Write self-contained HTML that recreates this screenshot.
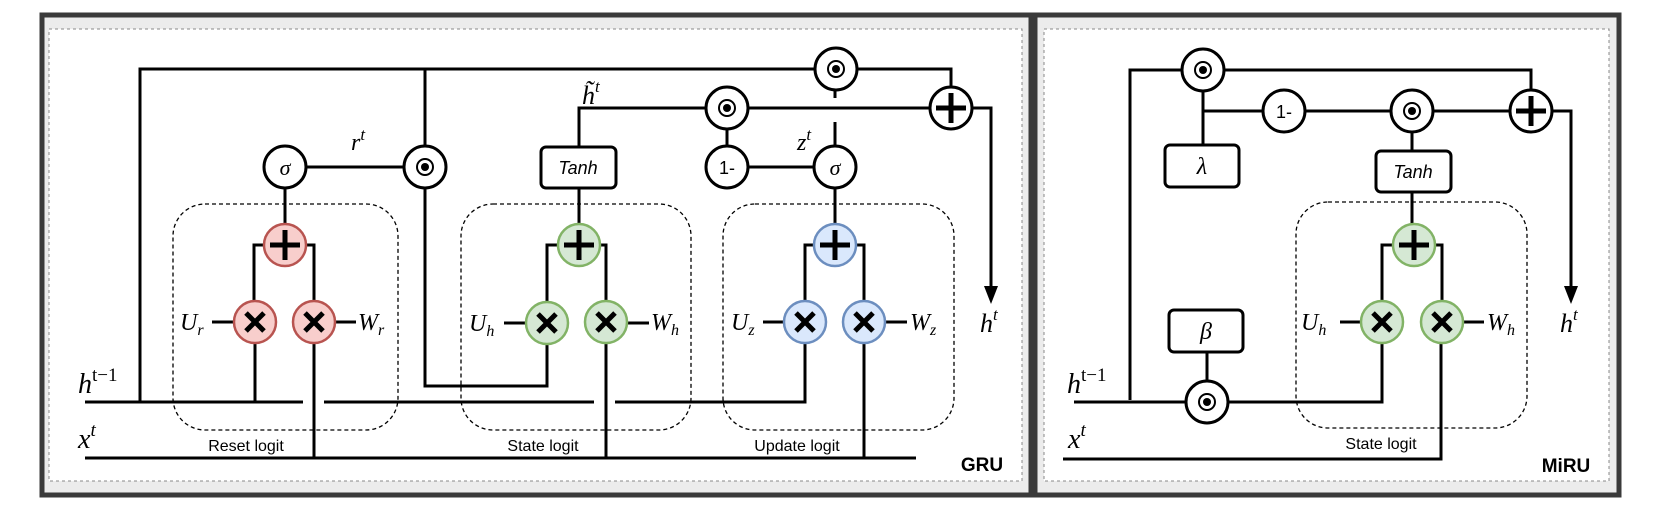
<!DOCTYPE html>
<html><head><meta charset="utf-8"><style>
html,body{margin:0;padding:0;background:#fff;}
svg{display:block;}
.m{font-family:"Liberation Serif",serif;font-style:italic;fill:#000;}
.s{font-family:"Liberation Sans",sans-serif;fill:#000;}
</style></head><body>
<svg width="1660" height="510" viewBox="0 0 1660 510" xmlns="http://www.w3.org/2000/svg">
<defs>
<g id="dot"><circle r="21" fill="#fff" stroke="#000" stroke-width="3"/><circle r="8" fill="none" stroke="#000" stroke-width="2"/><circle r="4" fill="#000"/></g>
<g id="plusw"><circle r="21" fill="#fff" stroke="#000" stroke-width="3"/><path d="M-15 0H15M0 -15V15" stroke="#000" stroke-width="5"/></g>
</defs>
<!-- panels -->
<rect x="42" y="15" width="989" height="480" fill="#ececec" stroke="#3a3a3a" stroke-width="5"/>
<rect x="49" y="29" width="973" height="452" fill="#fff" stroke="#888" stroke-width="1" stroke-dasharray="3,3"/>
<rect x="1035" y="15" width="584" height="480" fill="#ececec" stroke="#3a3a3a" stroke-width="5"/>
<rect x="1044" y="29" width="565" height="452" fill="#fff" stroke="#888" stroke-width="1" stroke-dasharray="3,3"/>

<!-- dashed boxes GRU -->
<g fill="none" stroke="#000" stroke-width="1.3" stroke-dasharray="4,3">
<rect x="173" y="204" width="225" height="226" rx="32"/>
<rect x="461" y="204" width="230" height="226" rx="32"/>
<rect x="723" y="204" width="231" height="226" rx="32"/>
<rect x="1296" y="202" width="231" height="226" rx="32"/>
</g>

<g fill="none" stroke="#000" stroke-width="3">
<!-- GRU lines -->
<path d="M140 402V69H836"/>
<path d="M425 69V167"/>
<path d="M425 167V386H547V322"/>
<path d="M285 167H425"/>
<path d="M285 167V245"/>
<path d="M254 322V245H314V322"/>
<path d="M255 322V402M314 322V458"/>
<path d="M212 322H233M336 322H356"/>
<path d="M85 402H303M324 402H594M615 402H805V322"/>
<path d="M85 458H916"/>
<path d="M579 188V108H991V290"/>
<path d="M579 147V245"/>
<path d="M547 322V245H606V322"/>
<path d="M606 322V458"/>
<path d="M504 323H525M628 323H649"/>
<path d="M727 108V167H835"/>
<path d="M835 89V98M835 122V167V245"/>
<path d="M805 322V245H864V322V458"/>
<path d="M763 322H783M886 322H907"/>
<path d="M836 69H951V108"/>
<!-- MiRU lines -->
<path d="M1130 400V70H1531V111"/>
<path d="M1203 70V145"/>
<path d="M1203 111H1571V290"/>
<path d="M1412 111V245"/>
<path d="M1382 322V245H1442V322"/>
<path d="M1340 322H1361M1463 322H1484"/>
<path d="M1207 352V402"/>
<path d="M1074 402H1382V322"/>
<path d="M1063 459H1441V322"/>
</g>
<!-- arrowheads -->
<path d="M984 286L991 304L998 286Z" fill="#000"/>
<path d="M1564 286L1571 304L1578 286Z" fill="#000"/>

<!-- GRU nodes -->
<circle cx="285" cy="167" r="21" fill="#fff" stroke="#000" stroke-width="3"/>
<text x="285" y="175" class="m" font-size="22" text-anchor="middle">σ</text>
<use href="#dot" x="425" y="167"/>
<use href="#dot" x="836" y="69"/>
<use href="#dot" x="727" y="108"/>
<use href="#plusw" x="951" y="108"/>
<circle cx="727" cy="167" r="21" fill="#fff" stroke="#000" stroke-width="3"/>
<text x="727" y="174" class="s" font-size="18" text-anchor="middle">1-</text>
<circle cx="835" cy="167" r="21" fill="#fff" stroke="#000" stroke-width="3"/>
<text x="835" y="175" class="m" font-size="22" text-anchor="middle">σ</text>
<rect x="541" y="147" width="75" height="41" rx="5" fill="#fff" stroke="#000" stroke-width="3"/>
<text x="578" y="174" class="s" font-size="18" font-style="italic" text-anchor="middle">Tanh</text>

<g stroke-width="2.5">
<circle cx="285" cy="245" r="21" fill="#f8cecc" stroke="#b85450"/>
<circle cx="255" cy="322" r="21" fill="#f8cecc" stroke="#b85450"/>
<circle cx="314" cy="322" r="21" fill="#f8cecc" stroke="#b85450"/>
<circle cx="579" cy="245" r="21" fill="#d5e8d4" stroke="#82b366"/>
<circle cx="547" cy="323" r="21" fill="#d5e8d4" stroke="#82b366"/>
<circle cx="606" cy="322" r="21" fill="#d5e8d4" stroke="#82b366"/>
<circle cx="835" cy="245" r="21" fill="#dae8fc" stroke="#6c8ebf"/>
<circle cx="805" cy="322" r="21" fill="#dae8fc" stroke="#6c8ebf"/>
<circle cx="864" cy="322" r="21" fill="#dae8fc" stroke="#6c8ebf"/>
<circle cx="1414" cy="245" r="21" fill="#d5e8d4" stroke="#82b366"/>
<circle cx="1382" cy="322" r="21" fill="#d5e8d4" stroke="#82b366"/>
<circle cx="1442" cy="322" r="21" fill="#d5e8d4" stroke="#82b366"/>
</g>
<g stroke="#000" stroke-width="5" fill="none">
<path d="M270 245H300M285 230V260"/>
<path d="M564 245H594M579 230V260"/>
<path d="M820 245H850M835 230V260"/>
<path d="M1399 245H1429M1414 230V260"/>
<path d="M246 313L264 331M264 313L246 331"/>
<path d="M305 313L323 331M323 313L305 331"/>
<path d="M538 314L556 332M556 314L538 332"/>
<path d="M597 313L615 331M615 313L597 331"/>
<path d="M796 313L814 331M814 313L796 331"/>
<path d="M855 313L873 331M873 313L855 331"/>
<path d="M1373 313L1391 331M1391 313L1373 331"/>
<path d="M1433 313L1451 331M1451 313L1433 331"/>
</g>

<!-- MiRU nodes -->
<use href="#dot" x="1203" y="70"/>
<use href="#dot" x="1412" y="111"/>
<use href="#dot" x="1207" y="402"/>
<use href="#plusw" x="1531" y="111"/>
<circle cx="1284" cy="111" r="21" fill="#fff" stroke="#000" stroke-width="3"/>
<text x="1284" y="118" class="s" font-size="18" text-anchor="middle">1-</text>
<rect x="1165" y="145" width="74" height="42" rx="5" fill="#fff" stroke="#000" stroke-width="3"/>
<text x="1202" y="174" class="m" font-size="24" text-anchor="middle">λ</text>
<rect x="1376" y="151" width="75" height="41" rx="5" fill="#fff" stroke="#000" stroke-width="3"/>
<text x="1413" y="178" class="s" font-size="18" font-style="italic" text-anchor="middle">Tanh</text>
<rect x="1169" y="310" width="74" height="42" rx="5" fill="#fff" stroke="#000" stroke-width="3"/>
<text x="1206" y="339" class="m" font-size="24" text-anchor="middle">β</text>

<!-- math labels -->
<g class="m">
<text x="78" y="393" font-size="28">h<tspan font-size="19" dy="-12" font-style="normal">t−1</tspan></text>
<text x="78" y="448" font-size="28">x<tspan font-size="19" dy="-12">t</tspan></text>
<text x="351" y="150" font-size="24">r<tspan font-size="17" dy="-10">t</tspan></text>
<text x="582" y="104" font-size="26">h̃<tspan font-size="17" dy="-12">t</tspan></text>
<text x="797" y="150" font-size="24">z<tspan font-size="17" dy="-10">t</tspan></text>
<text x="180" y="330" font-size="24">U<tspan font-size="16" dy="5">r</tspan></text>
<text x="358" y="330" font-size="24">W<tspan font-size="16" dy="5">r</tspan></text>
<text x="469" y="331" font-size="24">U<tspan font-size="16" dy="5">h</tspan></text>
<text x="651" y="330" font-size="24">W<tspan font-size="16" dy="5">h</tspan></text>
<text x="731" y="330" font-size="24">U<tspan font-size="16" dy="5">z</tspan></text>
<text x="910" y="330" font-size="24">W<tspan font-size="16" dy="5">z</tspan></text>
<text x="980" y="332" font-size="26">h<tspan font-size="17" dy="-12">t</tspan></text>
<text x="1067" y="393" font-size="28">h<tspan font-size="19" dy="-12" font-style="normal">t−1</tspan></text>
<text x="1068" y="448" font-size="28">x<tspan font-size="19" dy="-12">t</tspan></text>
<text x="1301" y="330" font-size="24">U<tspan font-size="16" dy="5">h</tspan></text>
<text x="1487" y="330" font-size="24">W<tspan font-size="16" dy="5">h</tspan></text>
<text x="1560" y="332" font-size="26">h<tspan font-size="17" dy="-12">t</tspan></text>
</g>
<g class="s" font-size="16" text-anchor="middle">
<text x="246" y="451">Reset logit</text>
<text x="543" y="451">State logit</text>
<text x="797" y="451">Update logit</text>
<text x="1381" y="449">State logit</text>
</g>
<text x="982" y="471" class="s" font-size="19" font-weight="bold" text-anchor="middle">GRU</text>
<text x="1566" y="472" class="s" font-size="19" font-weight="bold" text-anchor="middle">MiRU</text>
</svg>
</body></html>
